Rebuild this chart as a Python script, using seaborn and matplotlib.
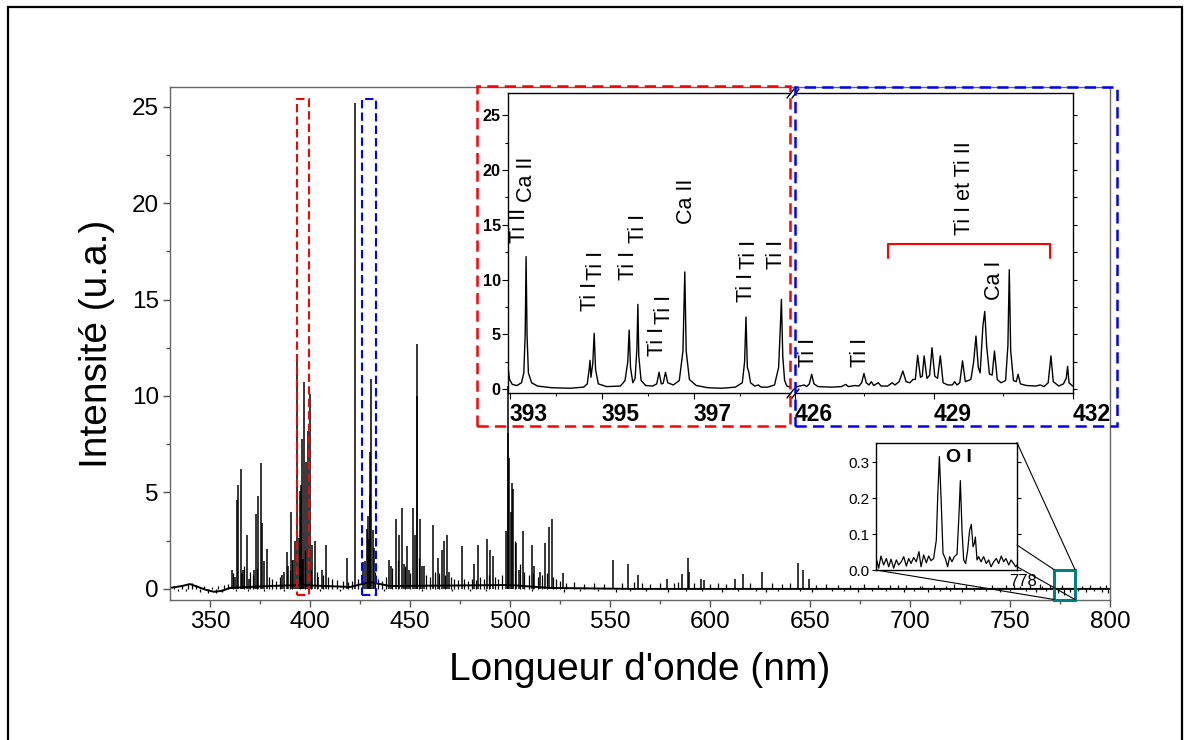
import numpy as np
import pandas as pd
import seaborn as sns
import matplotlib.pyplot as plt
from matplotlib.patches import Rectangle, ConnectionPatch
from matplotlib.ticker import MultipleLocator, FixedLocator

# ---- main spectrum: emission lines (nm) and their intensities (u.a.)
peak_nm = [
    360.8, 362.5, 363.3, 364.2, 365.3, 366.0, 366.7, 368.3, 369.5, 372.0,
    372.8, 374.0, 375.3, 376.0, 377.2, 378.7, 386.0, 387.0, 388.3, 389.2,
    390.3, 391.3, 392.5, 393.37, 394.74, 394.83, 395.59, 395.78, 396.24, 396.38,
    396.8, 398.13, 398.9, 399.86, 401.0, 402.5, 404.0, 405.8, 407.8, 418.3,
    422.67, 426.36, 427.49, 428.65, 428.96, 429.62, 429.91, 430.1, 430.63, 431.53,
    431.89, 439.5, 440.3, 442.8, 444.7, 445.8, 446.8, 448.3, 449.5, 451.7,
    452.5, 453.3, 453.7, 455.0, 456.0, 457.2, 461.7, 463.8, 465.8, 466.8,
    468.3, 469.7, 475.8, 482.0, 484.2, 488.7, 490.0, 491.7, 498.2, 498.8,
    499.2, 499.7, 500.4, 501.2, 501.7, 503.0, 504.5, 506.7, 510.8, 512.0,
    515.0, 517.3, 519.5, 520.8, 526.7, 551.3, 558.8, 564.2, 578.3, 586.2,
    588.8, 589.7, 595.3, 597.0, 612.5, 616.3, 625.8, 644.0, 646.3, 649.5,
]
peak_int = [
    1.0, 0.6, 4.6, 5.4, 6.2, 0.8, 1.0, 2.8, 0.5, 1.0,
    3.9, 4.8, 6.5, 3.4, 1.45, 2.05, 0.7, 0.9, 1.9, 1.2,
    4.0, 1.5, 2.5, 12.1, 2.65, 5.1, 5.4, 7.75, 1.55, 1.55,
    10.7, 6.6, 8.2, 10.1, 2.3, 2.5, 0.6, 1.0, 2.3, 1.6,
    25.2, 1.37, 1.45, 3.1, 3.8, 2.6, 4.86, 7.1, 10.9, 3.05,
    2.1, 1.5, 1.2, 3.6, 2.8, 4.2, 1.3, 2.2, 1.0, 4.2,
    2.8, 12.7, 10.0, 3.6, 1.2, 1.2, 3.3, 1.6, 2.0, 2.5,
    2.8, 0.9, 2.2, 1.3, 2.3, 2.6, 2.0, 1.7, 3.0, 10.5,
    8.1, 6.8, 4.0, 5.5, 5.2, 2.4, 1.0, 3.0, 2.3, 1.2,
    0.9, 2.4, 3.2, 3.6, 0.8, 1.5, 1.3, 0.7, 0.5, 0.75,
    1.6, 0.9, 0.5, 0.45, 0.5, 0.75, 0.9, 1.35, 1.0, 0.5,
]
# weak lines / noise spikes
noise_nm = [
    332, 336, 339, 341, 343, 347, 351, 354, 357, 359,
    361.5, 367, 370, 371.5, 373.5, 379.5, 381, 383, 385, 389.8,
    391, 395, 397.5, 400.3, 403.3, 406.5, 409, 411, 413.5, 416.5,
    419, 421, 424, 432.5, 434, 436, 438, 441, 444, 447.5,
    450, 454.5, 458, 460, 462.5, 464.5, 467.5, 470.5, 472, 474,
    477, 479, 481, 483, 485, 487, 489.5, 492.5, 494, 496,
    502.3, 505, 507, 509.5, 511.5, 514, 516, 518.5, 521.5, 523,
    525, 528, 532, 537, 542, 547, 556, 562, 566, 570,
    575, 582, 584, 592, 600, 604, 608, 620, 631, 636,
    640, 653, 658, 664, 670, 677, 684, 690, 698, 705,
    712, 718, 722, 728, 735, 741, 748, 755, 760, 765,
    770, 776, 786, 790, 795, 798, 766, 752, 706, 694,
]
noise_int = [
    0.15, 0.2, 0.25, 0.3, 0.2, 0.15, 0.1, 0.15, 0.2, 0.25,
    0.8, 1.2, 0.9, 0.7, 1.1, 0.6, 0.5, 0.4, 0.6, 1.0,
    1.5, 1.8, 2.0, 1.0, 0.9, 0.7, 0.6, 0.5, 0.45, 0.4,
    0.35, 0.4, 0.5, 0.9, 0.5, 0.4, 0.6, 1.1, 1.5, 1.2,
    0.8, 1.6, 0.7, 0.6, 0.9, 0.8, 0.7, 0.6, 0.5, 0.45,
    0.5, 0.4, 0.5, 0.45, 0.6, 0.5, 0.7, 0.6, 0.5, 0.7,
    2.5, 1.3, 0.9, 0.7, 0.8, 0.6, 0.7, 0.8, 0.6, 0.5,
    0.4, 0.3, 0.35, 0.25, 0.3, 0.25, 0.3, 0.35, 0.3, 0.25,
    0.3, 0.3, 0.35, 0.3, 0.25, 0.3, 0.25, 0.3, 0.3, 0.25,
    0.3, 0.2, 0.25, 0.2, 0.2, 0.25, 0.2, 0.2, 0.2, 0.15,
    0.2, 0.15, 0.25, 0.2, 0.15, 0.2, 0.2, 0.15, 0.2, 0.25,
    0.2, 0.2, 0.15, 0.2, 0.15, 0.2, 0.15, 0.2, 0.15, 0.2,
]
# small downward noise ticks on the baseline
dip_nm = [
    334, 338, 345, 349, 353, 356, 363, 369, 377, 387,
    405, 415, 437, 456, 471, 480, 488, 511, 527, 535,
    544, 553, 560, 568, 579, 588, 596, 606, 614, 623,
    628, 634, 645, 651, 661, 667, 674, 681, 688, 697,
    702, 709, 715, 720, 726, 732, 738, 745, 750, 758,
    763, 768, 774, 777, 780, 784, 788, 792, 796, 799,
]
dip_int = [
    -0.1, -0.1, -0.15, -0.2, -0.2, -0.15, -0.1, -0.1, -0.1, -0.1,
    -0.1, -0.1, -0.1, -0.1, -0.1, -0.1, -0.1, -0.1, -0.15, -0.1,
    -0.1, -0.15, -0.1, -0.1, -0.15, -0.1, -0.1, -0.15, -0.1, -0.1,
    -0.15, -0.1, -0.1, -0.15, -0.1, -0.1, -0.15, -0.1, -0.1, -0.15,
    -0.1, -0.15, -0.1, -0.1, -0.15, -0.1, -0.1, -0.15, -0.1, -0.1,
    -0.15, -0.1, -0.2, -0.3, -0.15, -0.1, -0.15, -0.1, -0.15, -0.2,
]
base_nm = [330, 336, 340, 344, 348, 352, 356, 360, 380, 395, 420, 430, 440, 500, 520, 560, 800]
base_int = [0.05, 0.15, 0.25, 0.1, -0.05, -0.15, -0.1, 0.05, 0.15, 0.2, 0.1, 0.35, 0.15, 0.2, 0.05, 0.0, 0.0]

# ---- zoom 393-399 nm
z1_nm = [392.963, 392.99, 393.05, 393.15, 393.25, 393.30, 393.33, 393.35, 393.37, 393.40,
         393.47, 393.6, 393.9, 394.3, 394.6, 394.68, 394.72, 394.74, 394.76, 394.80,
         394.83, 394.86, 394.92, 395.1, 395.40, 395.50, 395.56, 395.59, 395.62, 395.67,
         395.72, 395.76, 395.78, 395.80, 395.85, 395.95, 396.10, 396.19, 396.24, 396.29,
         396.33, 396.38, 396.43, 396.55, 396.68, 396.76, 396.80, 396.83, 396.90, 397.05,
         397.3, 397.6, 397.9, 398.05, 398.10, 398.13, 398.16, 398.19, 398.23, 398.32,
         398.40, 398.46, 398.6, 398.75, 398.84, 398.88, 398.90, 398.93, 398.97, 399.02,
         399.087]
z1_int = [1.8, 0.9, 0.45, 0.35, 0.6, 1.5, 5.0, 12.1, 5.0, 1.5,
          0.6, 0.3, 0.15, 0.1, 0.2, 0.5, 1.8, 2.65, 1.1, 2.4,
          5.1, 1.8, 0.5, 0.25, 0.3, 0.8, 2.5, 5.4, 2.0, 0.6,
          1.0, 3.8, 7.75, 3.0, 0.8, 0.35, 0.3, 0.5, 1.55, 0.5,
          0.55, 1.55, 0.6, 0.4, 0.8, 3.5, 10.7, 3.5, 0.9, 0.35,
          0.15, 0.1, 0.2, 0.6, 2.5, 6.6, 2.0, 1.6, 0.6, 0.3,
          0.4, 0.2, 0.2, 0.4, 2.0, 6.0, 8.2, 3.0, 0.8, 0.3,
          0.2]
z1_lab = ["Ti II", "Ca II", "Ti I", "Ti I", "Ti I", "Ti I", "Ti I", "Ti I", "Ca II", "Ti I", "Ti I", "Ti I"]
z1_lab_nm = [393.2, 393.36, 394.75, 394.87, 395.57, 395.79, 396.21, 396.35, 396.84, 398.14, 398.2, 398.8]
z1_lab_y = [13.3, 17.1, 7.1, 10.0, 10.0, 13.3, 3.0, 6.0, 15.1, 8.0, 11.0, 11.0]

# ---- zoom 426-432 nm
z2_nm = [426.0, 426.1, 426.2, 426.25, 426.31, 426.36, 426.41, 426.5, 426.8, 427.0,
         427.1, 427.15, 427.3, 427.38, 427.44, 427.49, 427.54, 427.6, 427.65, 427.7,
         427.8, 427.86, 428.0, 428.1, 428.16, 428.25, 428.33, 428.40, 428.48, 428.55,
         428.6, 428.65, 428.71, 428.75, 428.79, 428.85, 428.91, 428.96, 429.02, 429.08,
         429.14, 429.20, 429.3, 429.40, 429.45, 429.5, 429.56, 429.62, 429.68, 429.80,
         429.86, 429.91, 429.96, 430.0, 430.06, 430.10, 430.14, 430.20, 430.26, 430.31,
         430.37, 430.45, 430.55, 430.60, 430.63, 430.66, 430.72, 430.78, 430.82, 430.87,
         431.0, 431.2, 431.3, 431.38, 431.47, 431.53, 431.58, 431.7, 431.8, 431.86,
         431.89, 431.92, 432.0]
z2_int = [0.2, 0.3, 0.4, 0.25, 0.5, 1.37, 0.5, 0.25, 0.2, 0.25,
          0.45, 0.25, 0.35, 0.3, 0.6, 1.45, 0.6, 0.4, 0.7, 0.35,
          0.6, 0.3, 0.3, 0.6, 0.4, 0.7, 1.67, 0.7, 0.6, 0.9,
          0.9, 3.1, 1.1, 1.2, 3.05, 1.0, 1.3, 3.8, 1.2, 1.0,
          3.05, 0.6, 0.4, 0.4, 0.7, 0.4, 0.6, 2.6, 0.7, 0.9,
          2.5, 4.86, 2.0, 1.5, 5.8, 7.1, 4.0, 1.4, 1.3, 3.5,
          0.9, 0.6, 0.8, 4.0, 10.9, 3.5, 0.8, 0.7, 1.37, 0.5,
          0.35, 0.3, 0.4, 0.25, 0.6, 3.05, 0.7, 0.3, 0.5, 1.0,
          2.1, 0.6, 0.3]
z2_lab = ["Ti I", "Ti I", "Ti I et Ti II", "Ca I"]
z2_lab_nm = [426.29, 427.42, 429.66, 430.31]
z2_lab_y = [2.06, 2.06, 14.06, 8.14]
bracket_nm = [428.0, 428.0, 431.5, 431.5]
bracket_y = [12.0, 13.25, 13.25, 12.0]

# ---- zoom O I triplet
o_nm = [776.400, 776.432, 776.460, 776.492, 776.525, 776.553, 776.581, 776.613, 776.645, 776.673,
        776.705, 776.734, 776.766, 776.794, 776.822, 776.854, 776.886, 776.918, 776.943, 776.975,
        777.007, 777.035, 777.063, 777.095, 777.127, 777.144, 777.164, 777.184, 777.208, 777.236,
        777.264, 777.288, 777.316, 777.344, 777.377, 777.401, 777.417, 777.437, 777.457, 777.481,
        777.505, 777.529, 777.549, 777.570, 777.586, 777.598, 777.618, 777.638, 777.666, 777.698,
        777.730, 777.758, 777.787, 777.819, 777.851, 777.879, 777.911, 777.939, 777.967, 778.000,
        778.028, 778.060, 778.084, 778.100]
o_int = [0.035, 0.005, 0.039, 0.014, 0.032, 0.009, 0.030, 0.005, 0.028, 0.014,
         0.023, 0.037, 0.011, 0.032, 0.018, 0.035, 0.023, 0.051, 0.009, 0.042,
         0.020, 0.039, 0.026, 0.032, 0.083, 0.203, 0.316, 0.203, 0.046, 0.032,
         0.009, 0.037, 0.023, 0.037, 0.044, 0.157, 0.249, 0.111, 0.028, 0.018,
         0.055, 0.111, 0.127, 0.065, 0.074, 0.092, 0.028, 0.037, 0.023, 0.037,
         0.018, 0.028, 0.009, 0.023, 0.032, 0.018, 0.039, 0.023, 0.032, 0.014,
         0.028, 0.018, 0.009, 0.014]

sns.set_theme(style="ticks")
plt.rcParams['font.family'] = ['Liberation Sans', 'DejaVu Sans']
plt.rcParams.update({'text.color': 'black', 'axes.labelcolor': 'black',
                     'xtick.labelcolor': 'black', 'ytick.labelcolor': 'black'})

W, H = 1189, 740
fig = plt.figure(figsize=(W / 100, H / 100), dpi=100)


def fx(px):
    return px / W


def fy(py):
    return 1 - py / H


# outer frame
fig.add_artist(Rectangle((fx(7.5), -0.01), fx(1182 - 7.5), fy(7) + 0.01, transform=fig.transFigure,
                         fill=False, ec='black', lw=1.6, zorder=0))

# ---- main axes
ax = fig.add_axes([fx(170), fy(599.5), fx(1110 - 170), fy(87.3) - fy(599.5)])
sns.lineplot(x=base_nm, y=base_int, ax=ax, color='black', lw=1.4, estimator=None)
ax.vlines(dip_nm, 0, dip_int, color='black', lw=0.9)
ax.vlines(noise_nm, 0, noise_int, color='black', lw=0.9)
ax.vlines(peak_nm, 0, peak_int, color='black', lw=1.1)
ax.set_xlim(330, 800)
ax.set_ylim(-0.55, 26.0)
ax.xaxis.set_major_locator(FixedLocator(np.arange(350, 801, 50)))
ax.xaxis.set_minor_locator(MultipleLocator(25))
ax.yaxis.set_major_locator(MultipleLocator(5))
ax.yaxis.set_minor_locator(MultipleLocator(2.5))
ax.tick_params(which='both', direction='out', color='#555555', width=1, labelsize=17.5,
               labelcolor='black')
ax.tick_params(which='major', length=5, pad=3)
ax.tick_params(which='minor', length=3)
for s in ax.spines.values():
    s.set_color('#666666')
    s.set_linewidth(1)
ax.set_xlabel("Longueur d'onde (nm)", fontsize=28, labelpad=14, color='black')
ax.set_ylabel("Intensité (u.a.)", fontsize=28, labelpad=12, color='black')

# marker boxes on the main spectrum
ax.add_patch(Rectangle((393.5, -0.3), 6.0, 25.7, fill=False, ec='red', lw=1.5,
                       ls=(0, (4, 2)), clip_on=False, zorder=5))
ax.add_patch(Rectangle((425.8, -0.3), 7.2, 25.7, fill=False, ec='blue', lw=1.5,
                       ls=(0, (4, 2)), clip_on=False, zorder=5))
ax.add_patch(Rectangle((772, -0.55), 10.5, 1.55, fill=False, ec='#008080', lw=2.2,
                       clip_on=False, zorder=5))

# ---- broken-axis inset 393-399 / 426-432
ins_top, ins_bot = 92.7, 393.3
ax1 = fig.add_axes([fx(508.3), fy(ins_bot), fx(790 - 508.3), fy(ins_top) - fy(ins_bot)])
ax2 = fig.add_axes([fx(795), fy(ins_bot), fx(1072.7 - 795), fy(ins_top) - fy(ins_bot)])
sns.lineplot(x=z1_nm, y=z1_int, ax=ax1, color='black', lw=1, estimator=None)
sns.lineplot(x=z2_nm, y=z2_int, ax=ax2, color='black', lw=1, estimator=None)
for a in (ax1, ax2):
    a.set_facecolor('white')
    a.set_ylim(-0.36, 27.04)
    a.set_xlabel('')
    a.set_ylabel('')
    for s in a.spines.values():
        s.set_color('black')
        s.set_linewidth(1)
    a.yaxis.set_major_locator(MultipleLocator(5))
    a.yaxis.set_minor_locator(MultipleLocator(2.5))
    a.tick_params(which='both', direction='out', color='black', width=0.8, labelcolor='black')
    a.tick_params(which='major', length=4, pad=2)
    a.tick_params(which='minor', length=2)
    a.tick_params(axis='x', labelsize=16.4, pad=3)
    a.tick_params(axis='y', labelsize=11.7, pad=1.5)

ax1.set_xlim(392.963, 399.087)
ax1.xaxis.set_major_locator(FixedLocator([393, 395, 397]))
ax1.xaxis.set_minor_locator(FixedLocator([394, 396, 398]))
ax1.spines['right'].set_visible(False)
ax2.set_xlim(426, 432)
ax2.xaxis.set_major_locator(FixedLocator([426, 429, 432]))
ax2.xaxis.set_minor_locator(MultipleLocator(1.5))
ax2.spines['left'].set_visible(False)
ax2.yaxis.tick_right()
ax2.tick_params(axis='y', which='both', labelright=False, length=3)
for a in (ax1, ax2):
    for lab in a.get_xticklabels() + a.get_yticklabels():
        lab.set_fontweight('bold')
    plt.setp(a.get_xticklabels(), ha='left')

# break marks
kw = dict(marker=[(-1, -1.3), (1, 1.3)], markersize=7, ls='none', mec='black', mew=1, clip_on=False)
ax1.plot([1, 1], [0, 1], transform=ax1.transAxes, **kw)
ax2.plot([0, 0], [0, 1], transform=ax2.transAxes, **kw)

for s, x, y in zip(z1_lab, z1_lab_nm, z1_lab_y):
    ax1.text(x, y, s, rotation=90, ha='center', va='bottom', fontsize=15.5)
for s, x, y in zip(z2_lab, z2_lab_nm, z2_lab_y):
    ax2.text(x, y, s, rotation=90, ha='center', va='bottom', fontsize=15.5)
ax2.plot(bracket_nm, bracket_y, color='red', lw=1.5)

# ---- O I inset
ax3 = fig.add_axes([fx(876), fy(570), fx(1017 - 876), fy(442.6) - fy(570)])
ax3.set_facecolor('white')
sns.lineplot(x=o_nm, y=o_int, ax=ax3, color='black', lw=0.9, estimator=None)
ax3.set_xlim(776.4, 778.1)
ax3.set_ylim(0, 0.355)
ax3.set_xlabel('')
ax3.set_ylabel('')
ax3.yaxis.set_major_locator(FixedLocator([0.0, 0.1, 0.2, 0.3]))
ax3.set_yticklabels(['0.0', '0.1', '0.2', '0.3'])
ax3.xaxis.set_major_locator(FixedLocator([778]))
ax3.tick_params(axis='y', direction='out', length=3, width=0.8, color='black', labelsize=11, pad=1.5,
                right=True, labelcolor='black')
ax3.tick_params(axis='x', length=0, labelsize=12, pad=3, labelcolor='black')
plt.setp(ax3.get_xticklabels(), ha='left')
for s in ax3.spines.values():
    s.set_color('black')
    s.set_linewidth(1)
ax3.text(777.40, 0.29, 'O I', ha='center', va='bottom', fontsize=14, fontweight='bold')

# leader lines to the teal box
for xa, ya, xb, yb in [(1, 1, 782.5, 1.0), (1, 0.196, 772, 1.0), (1, 0.026, 782.5, -0.55), (0, 0, 772, -0.55)]:
    fig.add_artist(ConnectionPatch(xyA=(xa, ya), coordsA=ax3.transAxes, xyB=(xb, yb), coordsB=ax.transData,
                                   color='black', lw=0.8, zorder=3))

# dashed frames around the inset halves
fig.add_artist(Rectangle((fx(477), fy(426)), fx(790 - 477), fy(86) - fy(426), transform=fig.transFigure,
                         fill=False, ec='red', lw=1.8, ls=(0, (4.5, 2.5)), zorder=6))
fig.add_artist(Rectangle((fx(795), fy(426)), fx(1117 - 795), fy(86.7) - fy(426), transform=fig.transFigure,
                         fill=False, ec='blue', lw=1.8, ls=(0, (4.5, 2.5)), zorder=6))

fig.savefig('out.png', dpi=100)
